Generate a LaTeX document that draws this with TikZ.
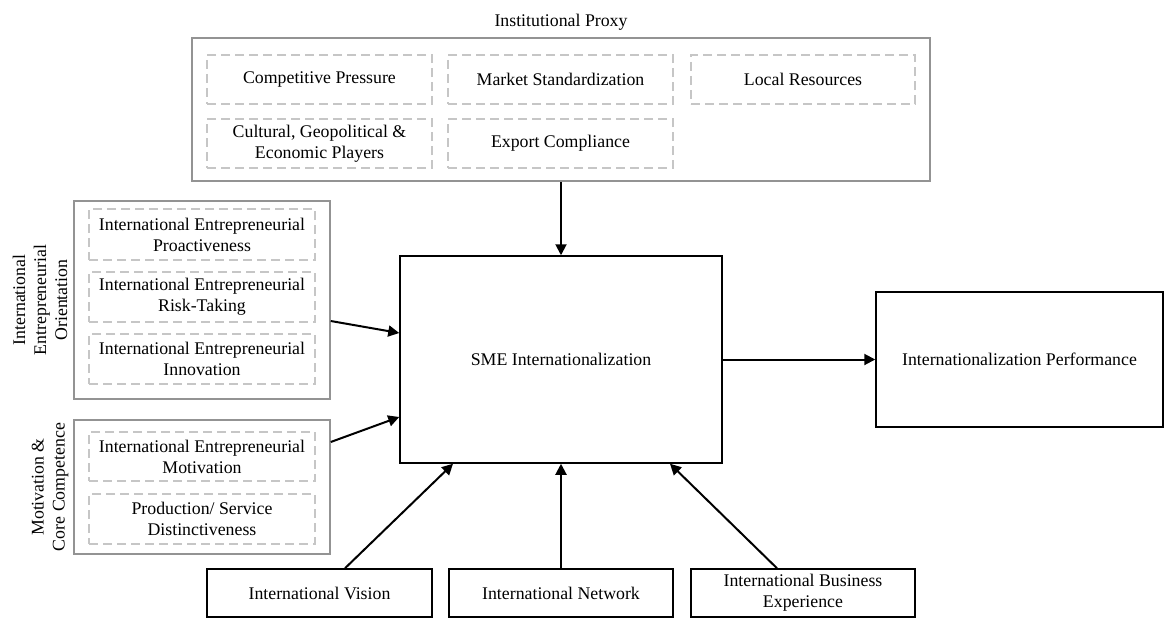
\documentclass[tikz,border=0pt]{standalone}
\usepackage{fontspec}
\setmainfont{Liberation Serif}
\usetikzlibrary{arrows.meta, positioning}

\begin{document}
\begin{tikzpicture}[
    x=1pt, y=-1pt,
    font=\fontsize{17.8}{21}\selectfont,
    group/.style={rectangle, draw=gray!85, line width=1.5pt, inner sep=0pt},
    factor/.style={rectangle, draw=gray!45, dash pattern=on 9pt off 5pt, line width=1.5pt, minimum width=225pt, minimum height=49pt, align=center, inner sep=0pt},
    construct/.style={rectangle, draw, line width=1.5pt, align=center, inner sep=0pt},
    arrow/.style={-{Triangle[length=11pt, width=11pt]}, line width=2pt}
]
\useasboundingbox (0,0) rectangle (1164,618);

% Top group (Institutional Proxy)
\node (ProxyTitle) at (561,22) {Institutional Proxy};
\node[group, minimum width=738pt, minimum height=143pt] (Proxy) at (561,109.5) {};
\node[factor] (Pressure) at (319.5,79.5) {Competitive Pressure};
\node[factor] (Standard) at (560.5,79.5) {Market Standardization};
\node[factor, minimum width=224pt] (Resources) at (803,79.5) {Local Resources};
\node[factor] (Players) at (319.5,143.5) {Cultural, Geopolitical \&\\Economic Players};
\node[factor] (Compliance) at (560.5,143.5) {Export Compliance};

% Left groups
\node[group, minimum width=256pt, minimum height=198pt] (Orientation) at (202,300) {};
\node[factor, minimum width=226pt, minimum height=51pt] (Proactive) at (202,234.5) {International Entrepreneurial\\Proactiveness};
\node[factor, minimum width=226pt, minimum height=50pt] (Risk) at (202,297) {International Entrepreneurial\\Risk-Taking};
\node[factor, minimum width=226pt, minimum height=50pt] (Innovation) at (202,359) {International Entrepreneurial\\Innovation};
\node[rotate=90, align=center] (OrientationLabel) at (40,300) {International\\Entrepreneurial\\Orientation};

\node[group, minimum width=256pt, minimum height=134pt] (Competence) at (202,487) {};
\node[factor, minimum width=226pt] (Motivation) at (202,456.5) {International Entrepreneurial\\Motivation};
\node[factor, minimum width=226pt, minimum height=50pt] (Distinct) at (202,519) {Production/ Service\\Distinctiveness};
\node[rotate=90, align=center] (CompetenceLabel) at (50,487) {Motivation \&\\Core Competence};

% Center and outcome
\node[construct, minimum width=322pt, minimum height=207pt] (SME) at (561,359.5) {SME Internationalization};
\node[construct, minimum width=287pt, minimum height=135pt] (Performance) at (1019.5,359.5) {Internationalization Performance};

% Bottom row
\node[construct, minimum width=225pt, minimum height=48pt] (Vision) at (319.5,593) {International Vision};
\node[construct, minimum width=224pt, minimum height=48pt] (Network) at (561,593) {International Network};
\node[construct, minimum width=224pt, minimum height=48pt] (Experience) at (803,593) {International Business\\Experience};

% Edges
\draw[arrow] (Proxy.south) -- (SME.north);
\draw[arrow] ([yshift=-21pt]Orientation.east) -- ([yshift=26.5pt]SME.west);
\draw[arrow] ([yshift=45pt]Competence.east) -- ([yshift=-57.5pt]SME.west);
\draw[arrow] ([xshift=25.5pt]Vision.north) -- ([xshift=-108pt]SME.south);
\draw[arrow] (Network.north) -- (SME.south);
\draw[arrow] ([xshift=-26pt]Experience.north) -- ([xshift=109pt]SME.south);
\draw[arrow] (SME.east) -- (Performance.west);

\end{tikzpicture}
\end{document}
